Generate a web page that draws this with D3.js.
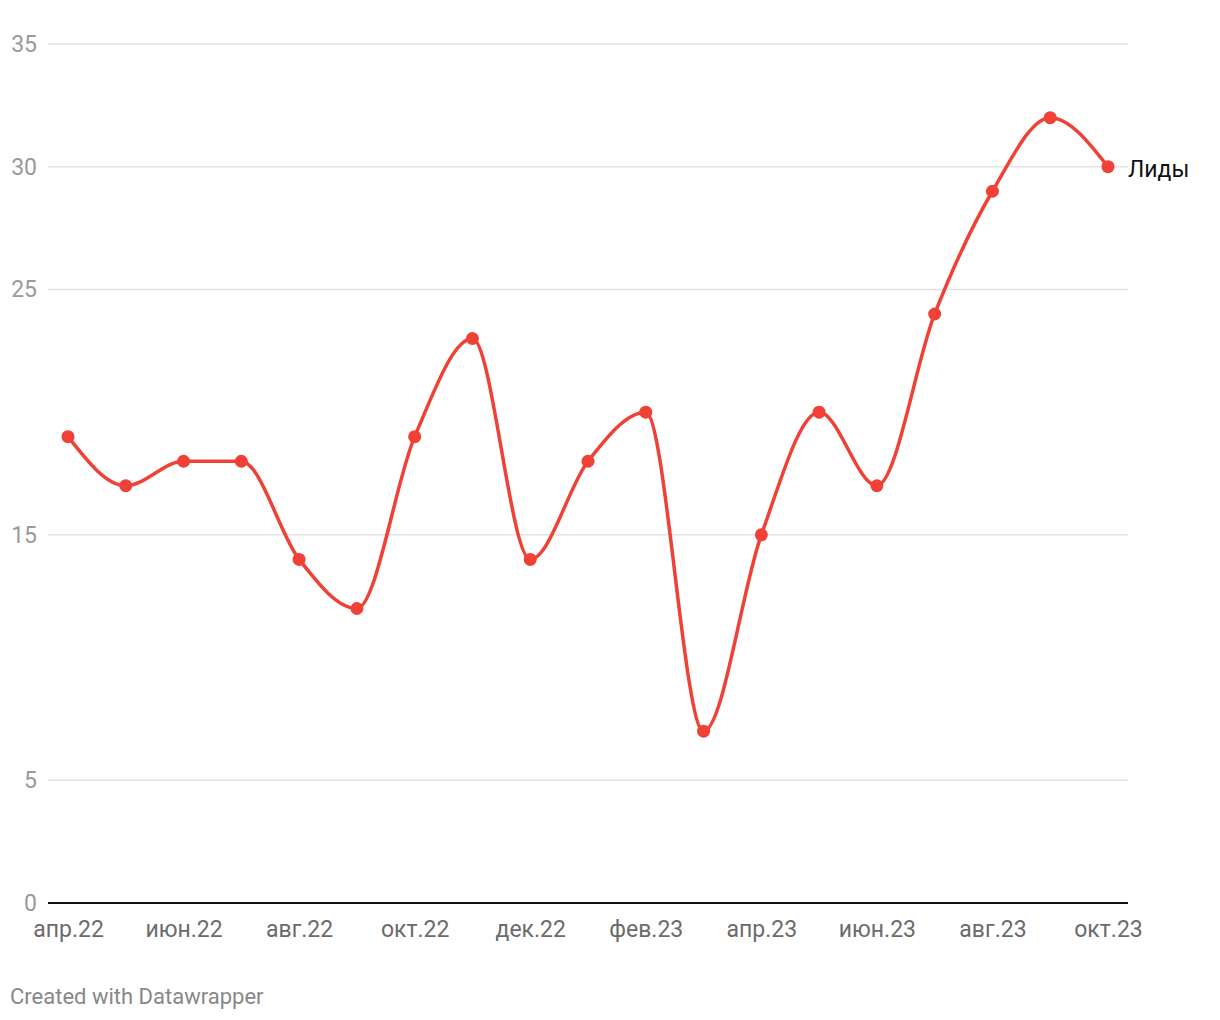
<!DOCTYPE html>
<html><head><meta charset="utf-8">
<script src="https://cdn.jsdelivr.net/npm/d3@7"></script>
<style>
html,body{margin:0;padding:0;background:#fff;}
svg{display:block;font-family:Roboto,"Noto Sans",sans-serif;}
</style></head>
<body>
<svg id="chart" width="1220" height="1020"></svg>
<script>
const months = ["апр.22","май.22","июн.22","июл.22","авг.22","сен.22","окт.22","ноя.22","дек.22","янв.23","фев.23","мар.23","апр.23","май.23","июн.23","июл.23","авг.23","сен.23","окт.23"];
const leads = [19,17,18,18,14,12,19,23,14,18,20,7,15,20,17,24,29,32,30];
const xTickLabels = ["апр.22","июн.22","авг.22","окт.22","дек.22","фев.23","апр.23","июн.23","авг.23","окт.23"];
const yTicks = [0,5,15,25,30,35];
const seriesName = "Лиды";

const svg = d3.select("#chart");
const x = d3.scalePoint().domain(months).range([68,1108]);
const y = d3.scaleLinear().domain([0,35]).range([903,44]);
const gridL = 48, gridR = 1128;
const red = "#ef4136";

// gridlines
svg.append("g").selectAll("line").data(yTicks.filter(d=>d!==0)).join("line")
  .attr("x1",gridL).attr("x2",gridR)
  .attr("y1",d=>y(d)).attr("y2",d=>y(d))
  .attr("stroke","#e3e3e3").attr("stroke-width",1.5);

// y labels
svg.append("g").selectAll("text").data(yTicks).join("text")
  .attr("x",37).attr("y",d=>y(d)).attr("dy","0.35em")
  .attr("text-anchor","end").attr("font-size",23).attr("fill","#9a9a9a")
  .text(d=>d);

// baseline
svg.append("line").attr("x1",gridL).attr("x2",gridR)
  .attr("y1",y(0)).attr("y2",y(0)).attr("stroke","#111").attr("stroke-width",2);

// x axis labels
const xAxis = d3.axisBottom(x).tickValues(xTickLabels).tickSize(0).tickPadding(0);
const gx = svg.append("g").attr("transform",`translate(0,${y(0)})`).call(xAxis);
gx.select(".domain").remove();
gx.selectAll("text").attr("font-size",23).attr("fill","#6b6b6b")
  .attr("font-family","Roboto,sans-serif").attr("y",18).attr("dy","0.71em");

// line
const line = d3.line().x((d,i)=>x(months[i])).y(d=>y(d)).curve(d3.curveMonotoneX);
svg.append("path").datum(leads).attr("d",line)
  .attr("fill","none").attr("stroke",red).attr("stroke-width",3.5)
  .attr("stroke-linejoin","round").attr("stroke-linecap","round");

// dots
svg.append("g").selectAll("circle").data(leads).join("circle")
  .attr("cx",(d,i)=>x(months[i])).attr("cy",d=>y(d)).attr("r",6.5).attr("fill",red);

// series label
svg.append("text").attr("x",1128).attr("y",y(leads[leads.length-1])).attr("dy","0.45em")
  .attr("font-size",23).attr("fill","#111").text(seriesName);

// footer
svg.append("text").attr("x",10).attr("y",1004).attr("font-size",22).attr("fill","#888")
  .text("Created with Datawrapper");
</script>
</body></html>
